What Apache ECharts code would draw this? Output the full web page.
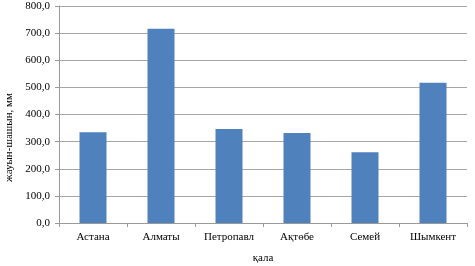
<!DOCTYPE html>
<html><head><meta charset="utf-8">
<script src="https://cdn.jsdelivr.net/npm/echarts@6/dist/echarts.min.js"></script>
<style>html,body{margin:0;padding:0;background:#fff}#c{width:475px;height:266px}</style>
</head><body><div id="c"></div>
<script>
var categories = ['Астана','Алматы','Петропавл','Ақтөбе','Семей','Шымкент'];
var values = [335, 716, 347, 332, 261, 517];
var chart = echarts.init(document.getElementById('c'), null, {renderer:'canvas'});
var font = '"Liberation Serif","Times New Roman",serif';
chart.setOption({
  animation:false,
  grid:{left:59,right:8,top:6,bottom:43,containLabel:false,outerBoundsMode:'none'},
  xAxis:{type:'category',data:categories,
    name:'қала',nameLocation:'middle',nameGap:30,
    nameTextStyle:{fontFamily:font,fontSize:11,color:'#000'},
    axisLine:{lineStyle:{color:'#999'}},
    axisTick:{show:true,length:4,lineStyle:{color:'#999'}},
    axisLabel:{fontFamily:font,fontSize:11,color:'#000',margin:9}},
  yAxis:{type:'value',min:0,max:800,interval:100,
    name:'жауын-шашын, мм',nameLocation:'middle',nameGap:38,
    nameTextStyle:{fontFamily:font,fontSize:11,color:'#000',padding:[0,46,0,0]},
    axisLine:{show:true,lineStyle:{color:'#999'}},
    axisTick:{show:true,length:4,lineStyle:{color:'#999'}},
    splitLine:{lineStyle:{color:'#a6a6a6'}},
    axisLabel:{fontFamily:font,fontSize:11,color:'#000',margin:9,
      formatter:function(v){return v.toFixed(1).replace('.',',');}}},
  series:[{type:'bar',data:values,barWidth:27,itemStyle:{color:'#4F81BD'}}]
});
</script></body></html>
